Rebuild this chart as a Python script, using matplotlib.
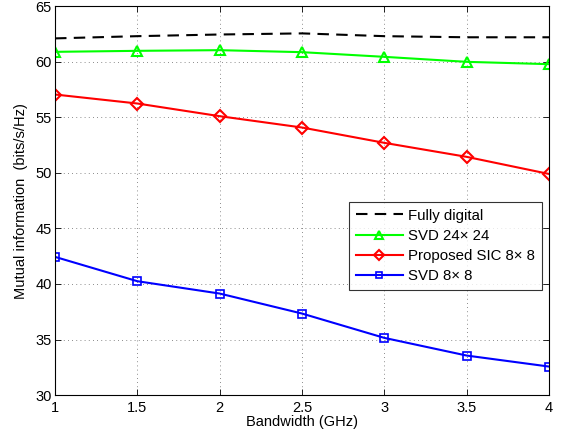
import matplotlib
matplotlib.use("Agg")
import matplotlib.pyplot as plt

plt.rcParams['font.family'] = ['Liberation Sans', 'DejaVu Sans']

bandwidth = [1, 1.5, 2, 2.5, 3, 3.5, 4]
fully_digital = [62.1, 62.3, 62.45, 62.55, 62.3, 62.2, 62.2]
svd_24 = [60.89, 60.98, 61.04, 60.86, 60.44, 59.99, 59.78]
sic_8 = [57.05, 56.24, 55.1, 54.08, 52.7, 51.44, 49.9]
svd_8 = [42.44, 40.25, 39.14, 37.34, 35.15, 33.56, 32.57]

xticks = [1, 1.5, 2, 2.5, 3, 3.5, 4]
xticklabels = ['1', '1.5', '2', '2.5', '3', '3.5', '4']
yticks = [30, 35, 40, 45, 50, 55, 60, 65]

fig = plt.figure(figsize=(5.62, 4.4), dpi=100)
ax = fig.add_axes([0.0979, 0.102, 0.879, 0.884])

ax.plot(bandwidth, fully_digital, color='black', lw=1.5, dashes=(5.5, 3.5), label='Fully digital')
ax.plot(bandwidth, svd_24, color=(0, 1, 0), lw=1.5, marker='^', ms=7, mfc='none', mew=1.5, label='SVD 24× 24')
ax.plot(bandwidth, sic_8, color=(1, 0, 0), lw=1.5, marker='D', ms=6, mfc='none', mew=1.5, label='Proposed SIC 8× 8')
ax.plot(bandwidth, svd_8, color=(0, 0, 1), lw=1.5, marker='s', ms=6, mfc='none', mew=1.2, label='SVD 8× 8')

ax.set_xlim(1, 4)
ax.set_ylim(30, 65)
ax.set_xticks(xticks)
ax.set_xticklabels(xticklabels)
ax.set_yticks(yticks)
ax.tick_params(direction='in', top=True, right=True, labelsize=10.5, length=4, width=0.6)
ax.tick_params(axis='y', pad=2.5)
ax.tick_params(axis='x', pad=4)
ax.grid(True, linestyle=(0, (1, 4)), color='#666666', lw=0.6)
for s in ax.spines.values():
    s.set_linewidth(0.8)

ax.set_xlabel('Bandwidth (GHz)', fontsize=10.5, labelpad=0)
ax.set_ylabel('Mutual information  (bits/s/Hz)', fontsize=10.5, labelpad=5)

leg = ax.legend(loc='upper right', bbox_to_anchor=(0.985, 0.497),
                fontsize=10.8, frameon=True, fancybox=False, edgecolor='black',
                handlelength=3.1, borderaxespad=0, labelspacing=0.42, handletextpad=0.35,
                borderpad=0.45, markerscale=0.8)
leg.get_frame().set_linewidth(0.8)

fig.savefig('out.png', dpi=100)
